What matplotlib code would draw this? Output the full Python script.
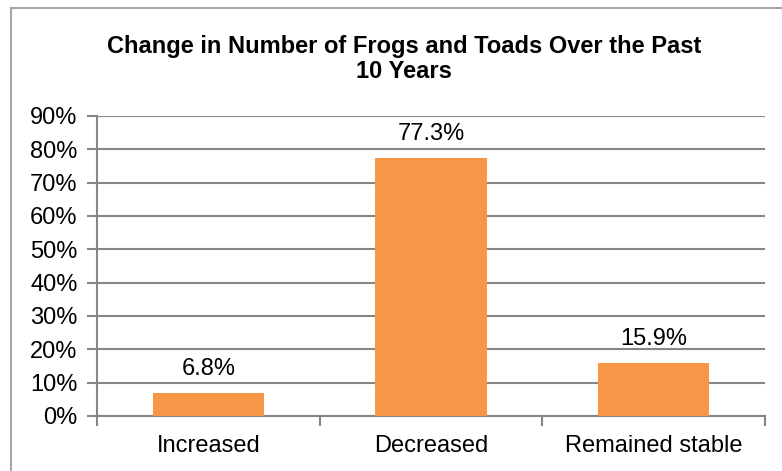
import matplotlib.pyplot as plt
from matplotlib.patches import Rectangle

categories = ['Increased', 'Decreased', 'Remained stable']
values = [6.8, 77.3, 15.9]
yticks = [0, 10, 20, 30, 40, 50, 60, 70, 80, 90]

plt.rcParams['font.family'] = ['Liberation Sans', 'DejaVu Sans']

grey = '#868686'
fs = 17
fig = plt.figure(figsize=(7.82, 4.71), dpi=100)
ax = fig.add_axes([97 / 782, 1 - 416 / 471, 668 / 782, 300 / 471])

# chart area frame: left and top edges only
fig.patches.append(Rectangle((11 / 782, -0.1), 1.2, 1 - 8 / 471 + 0.1,
                             transform=fig.transFigure, fill=False,
                             edgecolor='#a6a6a6', linewidth=1.5))

x = range(len(categories))
ax.bar(x, values, width=0.5, color='#F79646', zorder=3)
for i, v in zip(x, values):
    ax.text(i, v + 7.2, f'{v}%', ha='center', va='center', fontsize=fs)

ax.set_xlim(-0.5, 2.5)
ax.set_ylim(0, 90)
ax.set_yticks(yticks)
ax.set_yticklabels([f'{t}%' for t in yticks], fontsize=fs)
ax.yaxis.grid(True, color=grey, linewidth=1.5, zorder=0)
ax.set_axisbelow(True)

# category names centred, tick marks on the boundaries
ax.set_xticks([-0.5, 0.5, 1.5, 2.5])
ax.set_xticklabels([])
ax.set_xticks(list(x), minor=True)
ax.set_xticklabels(categories, minor=True, fontsize=fs)
ax.tick_params(axis='x', which='minor', length=0, pad=14)
ax.tick_params(axis='x', which='major', length=7, width=1.5, color=grey)
ax.tick_params(axis='y', length=7, width=1.5, color=grey, pad=7)

for s in ['top', 'right']:
    ax.spines[s].set_visible(False)
for s in ['left', 'bottom']:
    ax.spines[s].set_color(grey)
    ax.spines[s].set_linewidth(1.5)

fig.text(404 / 782, 1 - 59 / 471,
         'Change in Number of Frogs and Toads Over the Past\n10 Years',
         ha='center', va='center', fontsize=fs, fontweight='bold',
         linespacing=1.15)

fig.savefig('out.png', dpi=100)
